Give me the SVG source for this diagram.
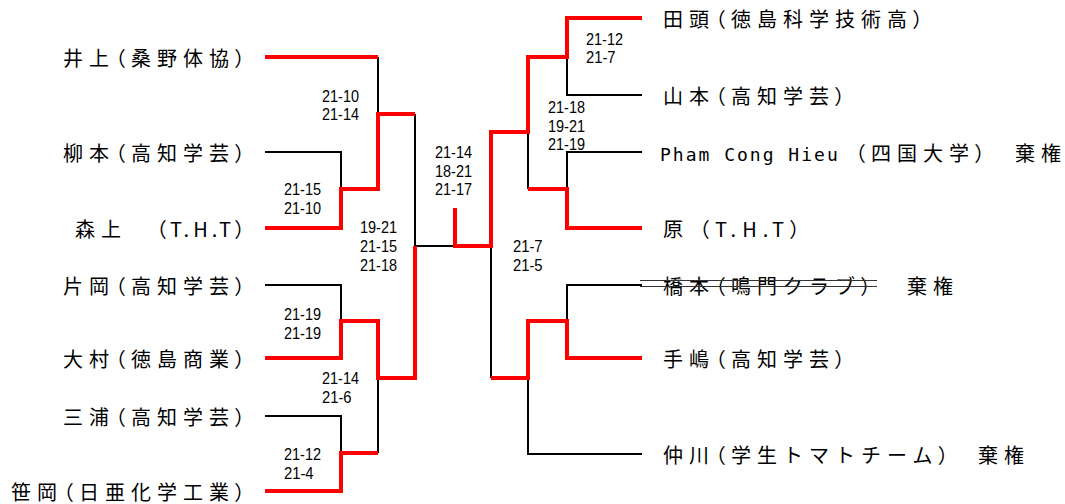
<svg xmlns="http://www.w3.org/2000/svg" width="1065" height="504" viewBox="0 0 1065 504">
<style>
.bk{fill:none;stroke:#000;stroke-width:2;stroke-linejoin:miter}
.rd{fill:none;stroke:#ff0000;stroke-width:4;stroke-linejoin:miter}
.nm{font-family:"Noto Sans CJK JP","Noto Sans CJK SC",sans-serif;font-size:20px;letter-spacing:6px;fill:#000}
.p{font-feature-settings:"palt"}
.tht{letter-spacing:4px}
.lat{font-family:"DejaVu Sans Mono",monospace;font-size:18px;letter-spacing:2px}
.sc{font-family:"Liberation Sans",Arial,sans-serif;font-size:16.5px;fill:#000}
.st{stroke:#333;stroke-width:1}
</style>
<rect width="1065" height="504" fill="#fff"/>
<g id="connectors">
<polyline class="bk" points="378,57 378,114"/>
<polyline class="bk" points="265,152 341,152 341,189"/>
<polyline class="bk" points="265,285 341,285 341,321"/>
<polyline class="bk" points="265,416 341,416 341,453"/>
<polyline class="bk" points="378,378 378,453"/>
<polyline class="bk" points="415,114 415,246 455,246"/>
<polyline class="bk" points="567,57 567,95 642,95"/>
<polyline class="bk" points="528,132 528,189"/>
<polyline class="bk" points="567,189 567,152 642,152"/>
<polyline class="bk" points="491,246 491,378"/>
<polyline class="bk" points="567,321 567,285 642,285"/>
<polyline class="bk" points="528,378 528,454 642,454"/>
<polyline class="rd" points="265,57 378,57"/>
<polyline class="rd" points="265,228 341,228 341,189 378,189 378,114 415,114"/>
<polyline class="rd" points="265,358 341,358 341,321 378,321 378,378 415,378 415,246"/>
<polyline class="rd" points="265,491 341,491 341,453 378,453"/>
<polyline class="rd" points="455,208 455,246 491,246 491,132 528,132 528,57 567,57 567,18 642,18"/>
<polyline class="rd" points="528,189 567,189 567,228 642,228"/>
<polyline class="rd" points="491,378 528,378 528,321 567,321 567,358 642,358"/>
</g>
<g id="scores">
<text class="sc" x="322" y="102" textLength="37" lengthAdjust="spacingAndGlyphs">21-10</text>
<text class="sc" x="322" y="120" textLength="37" lengthAdjust="spacingAndGlyphs">21-14</text>
<text class="sc" x="284" y="195" textLength="37" lengthAdjust="spacingAndGlyphs">21-15</text>
<text class="sc" x="284" y="214" textLength="37" lengthAdjust="spacingAndGlyphs">21-10</text>
<text class="sc" x="360" y="233" textLength="37" lengthAdjust="spacingAndGlyphs">19-21</text>
<text class="sc" x="360" y="252" textLength="37" lengthAdjust="spacingAndGlyphs">21-15</text>
<text class="sc" x="360" y="271" textLength="37" lengthAdjust="spacingAndGlyphs">21-18</text>
<text class="sc" x="284" y="320" textLength="37" lengthAdjust="spacingAndGlyphs">21-19</text>
<text class="sc" x="284" y="339" textLength="37" lengthAdjust="spacingAndGlyphs">21-19</text>
<text class="sc" x="322" y="384" textLength="37" lengthAdjust="spacingAndGlyphs">21-14</text>
<text class="sc" x="322" y="403" textLength="29.6" lengthAdjust="spacingAndGlyphs">21-6</text>
<text class="sc" x="284" y="460" textLength="37" lengthAdjust="spacingAndGlyphs">21-12</text>
<text class="sc" x="284" y="479" textLength="29.6" lengthAdjust="spacingAndGlyphs">21-4</text>
<text class="sc" x="435" y="158" textLength="37" lengthAdjust="spacingAndGlyphs">21-14</text>
<text class="sc" x="435" y="177" textLength="37" lengthAdjust="spacingAndGlyphs">18-21</text>
<text class="sc" x="435" y="195" textLength="37" lengthAdjust="spacingAndGlyphs">21-17</text>
<text class="sc" x="586" y="45" textLength="37" lengthAdjust="spacingAndGlyphs">21-12</text>
<text class="sc" x="586" y="63" textLength="29.6" lengthAdjust="spacingAndGlyphs">21-7</text>
<text class="sc" x="548" y="113" textLength="37" lengthAdjust="spacingAndGlyphs">21-18</text>
<text class="sc" x="548" y="132" textLength="37" lengthAdjust="spacingAndGlyphs">19-21</text>
<text class="sc" x="548" y="150" textLength="37" lengthAdjust="spacingAndGlyphs">21-19</text>
<text class="sc" x="513" y="252" textLength="29.6" lengthAdjust="spacingAndGlyphs">21-7</text>
<text class="sc" x="513" y="271" textLength="29.6" lengthAdjust="spacingAndGlyphs">21-5</text>
</g>
<g id="p-inoue"><text class="nm" x="63" y="65.5">井上<tspan class="p">（</tspan>桑野体協<tspan class="p">）</tspan></text></g>
<g id="p-yanagimoto"><text class="nm" x="63" y="160.5">柳本<tspan class="p">（</tspan>高知学芸<tspan class="p">）</tspan></text></g>
<g id="p-morikami"><text class="nm" x="75" y="236.5">森上<tspan x="156" class="p tht">（</tspan><tspan class="tht">T.H.T</tspan><tspan class="p">）</tspan></text></g>
<g id="p-kataoka"><text class="nm" x="63" y="293.5">片岡<tspan class="p">（</tspan>高知学芸<tspan class="p">）</tspan></text></g>
<g id="p-omura"><text class="nm" x="63" y="366.5">大村<tspan class="p">（</tspan>徳島商業<tspan class="p">）</tspan></text></g>
<g id="p-miura"><text class="nm" x="63" y="424.5">三浦<tspan class="p">（</tspan>高知学芸<tspan class="p">）</tspan></text></g>
<g id="p-sasaoka"><text class="nm" x="11" y="499.5">笹岡<tspan class="p">（</tspan>日亜化学工業<tspan class="p">）</tspan></text></g>
<g id="p-tagashira"><text class="nm" x="663" y="26.5">田頭<tspan class="p">（</tspan>徳島科学技術高<tspan class="p">）</tspan></text></g>
<g id="p-yamamoto"><text class="nm" x="663" y="103.5">山本<tspan class="p">（</tspan>高知学芸<tspan class="p">）</tspan></text></g>
<g id="p-pham"><text class="nm" x="660" y="160.5"><tspan class="lat">Pham Cong Hieu</tspan><tspan x="855" class="p">（</tspan>四国大学<tspan class="p">）</tspan><tspan x="1015">棄権</tspan></text></g>
<g id="p-hara"><text class="nm" x="663" y="236.5">原<tspan x="699" class="p">（</tspan>T.H.T<tspan class="p">）</tspan></text></g>
<g id="p-hashimoto"><text class="nm" x="663" y="293.5">橋本<tspan class="p">（</tspan>鳴門クラブ<tspan class="p">）</tspan><tspan x="907">棄権</tspan></text>
<line class="st" x1="640" y1="280.5" x2="877" y2="280.5"/><line class="st" x1="640" y1="286.5" x2="877" y2="286.5"/></g>
<g id="p-tejima"><text class="nm" x="663" y="366.5">手嶋<tspan class="p">（</tspan>高知学芸<tspan class="p">）</tspan></text></g>
<g id="p-nakagawa"><text class="nm" x="663" y="462.5">仲川<tspan class="p">（</tspan>学生トマトチーム<tspan class="p">）</tspan><tspan x="978">棄権</tspan></text></g>
</svg>
